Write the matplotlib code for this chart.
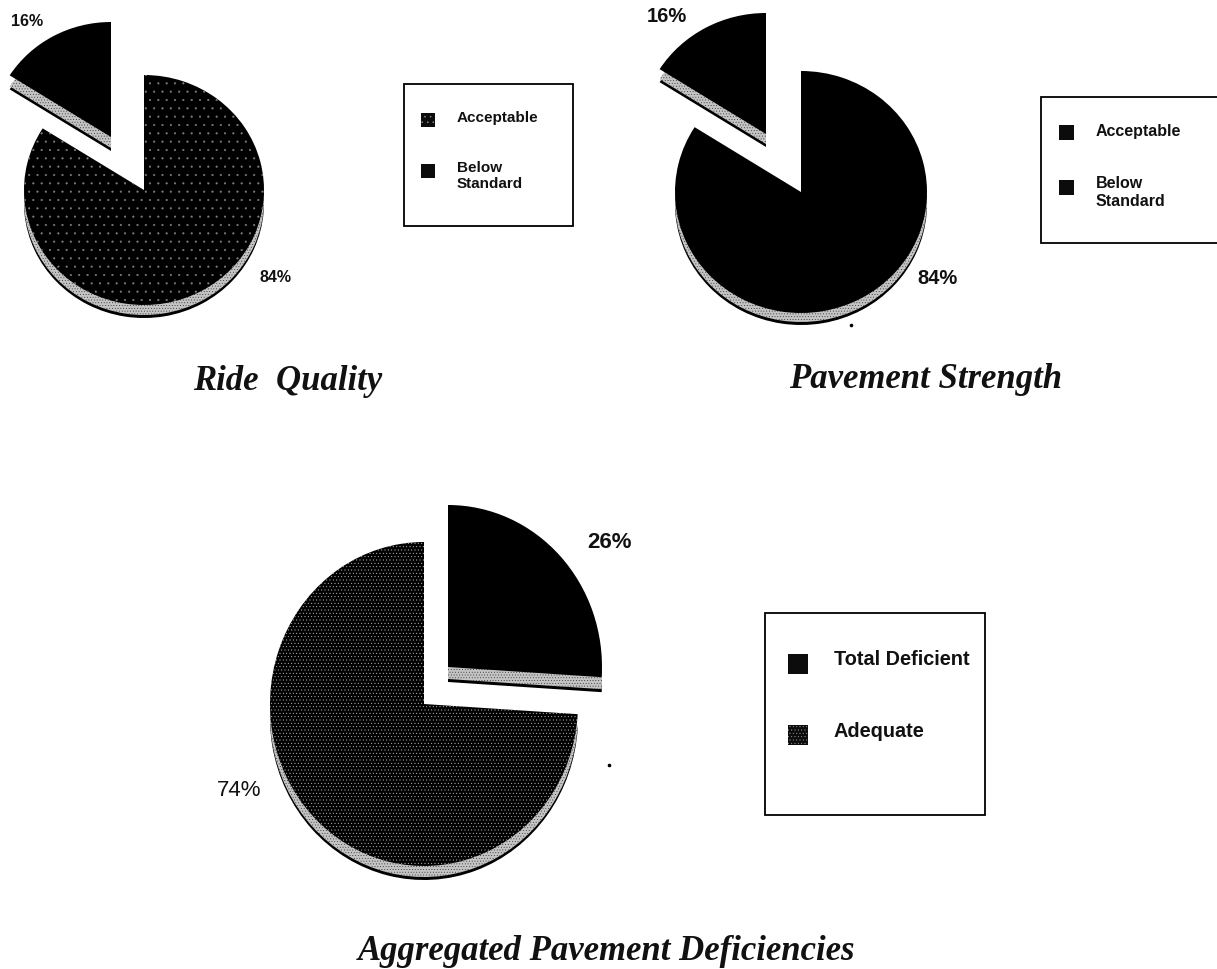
import matplotlib
matplotlib.use('Agg')
import matplotlib.pyplot as plt
from matplotlib.patches import Rectangle

W, H = 1217, 969

# pie shares, in drawing order going counter-clockwise from 12 o'clock
ride_values = [16, 84]
strength_values = [16, 84]
aggregate_values = [74, 26]

ride_legend = ['Acceptable', 'Below\nStandard']
strength_legend = ['Acceptable', 'Below\nStandard']
aggregate_legend = ['Total Deficient', 'Adequate']

titles = ['Ride  Quality', 'Pavement Strength', 'Aggregated Pavement Deficiencies']

plt.rcParams['hatch.linewidth'] = 0.3
SANS = 'Liberation Sans'
SERIF = 'Liberation Serif'

fig = plt.figure(figsize=(W / 100, H / 100), dpi=100, facecolor='white')


def draw_pie(cx, cy, rx, ry, values, shifts, rims, hatches, speck):
    # one full-figure axes per pie, scaled so the unit circle becomes the tilted ellipse
    ax = fig.add_axes([0, 0, 1, 1])
    angle = 90
    for value, (dx, dy), rim, hatch in zip(values, shifts, rims, hatches):
        x0, y0 = dx / rx, -dy / ry
        rest = sum(values) - value
        layers = [(rim, 'black', 'none', None),
                  (rim - 3, '#c4c4c4', '#303030', '......'),
                  (0, 'black', speck, hatch)]
        for drop, face, edge, hatch_style in layers:
            wedges, _ = ax.pie([value, rest], colors=[face, 'none'], startangle=angle,
                               center=(x0, y0 - drop / ry), radius=1, frame=True,
                               wedgeprops={'linewidth': 0})
            wedges[0].set_hatch(hatch_style)
            wedges[0].set_edgecolor(edge)
            wedges[1].set_visible(False)
        angle += value * 3.6
    ax.set_aspect('auto')
    ax.set_xlim(-cx / rx, (W - cx) / rx)
    ax.set_ylim((cy - H) / ry, cy / ry)
    ax.axis('off')
    ax.patch.set_alpha(0)


draw_pie(144, 190, 120, 115, ride_values, [(-33, -53), (0, 0)], [14, 13], ['', '..'], '#808080')
draw_pie(801, 192, 126, 121, strength_values, [(-35, -58), (0, 0)], [13, 12], ['', ''], 'white')
draw_pie(424, 704, 154, 162, aggregate_values, [(0, 0), (24, -37)], [14, 15], ['.....', ''], '#c0c0c0')

# overlay in pixel coordinates for the legend boxes and the text
ov = fig.add_axes([0, 0, 1, 1])
ov.set_xlim(0, W)
ov.set_ylim(H, 0)
ov.axis('off')
ov.patch.set_alpha(0)


def draw_legend(box, labels, swatch_x, swatch_ys, size, swatch_hatch, text_x, text_ys, fontsize):
    x0, y0, x1, y1 = box
    ov.add_patch(Rectangle((x0, y0), x1 - x0, y1 - y0, facecolor='white',
                           edgecolor='black', linewidth=1.3, clip_on=False))
    for label, sy, ty, hatch in zip(labels, swatch_ys, text_ys, swatch_hatch):
        ov.add_patch(Rectangle((swatch_x - size / 2, sy - size / 2), size, size, facecolor='#0c0c0c',
                               edgecolor='#a0a0a0' if hatch else 'none', hatch=hatch, linewidth=0))
        ov.text(text_x, ty, label, family=SANS, fontweight='bold', fontsize=fontsize, color='#111111',
                va='top', ha='left', linespacing=1.22)


draw_legend((404, 84, 573, 226), ride_legend, 428, [120, 171], 14, ['...', ''], 457, [111, 161], 11)
draw_legend((1041, 97, 1218, 243), strength_legend, 1066, [132, 187], 15, ['', ''], 1096, [124, 176], 11.5)
draw_legend((765, 613, 985, 815), aggregate_legend, 798, [664, 735], 20, ['', '.....'], 834, [650, 722], 14.3)

pct_labels = [(27, 21, ride_values[0], 11.5, 'bold'), (275, 278, ride_values[1], 11.5, 'bold'),
              (667, 16, strength_values[0], 14.5, 'bold'), (937, 279, strength_values[1], 14.5, 'bold'),
              (609, 542, aggregate_values[1], 16, 'bold'), (239, 790, aggregate_values[0], 16, 'normal')]
for x, y, value, size, weight in pct_labels:
    ov.text(x, y, f'{value}%', family=SANS, fontsize=size, fontweight=weight, ha='center', va='center',
            color='#111111')

title_xy = [(288, 381), (926, 379), (607, 952)]
for (x, y), title in zip(title_xy, titles):
    ov.text(x, y, title, family=SERIF, style='italic', fontweight='bold', fontsize=25, ha='center',
            va='center', color='#111111')

# stray marks next to the lower pies
ov.plot([609, 851], [765, 325], ls='none', marker='o', ms=1.6, color='black')

fig.savefig('out.png', dpi=100)
